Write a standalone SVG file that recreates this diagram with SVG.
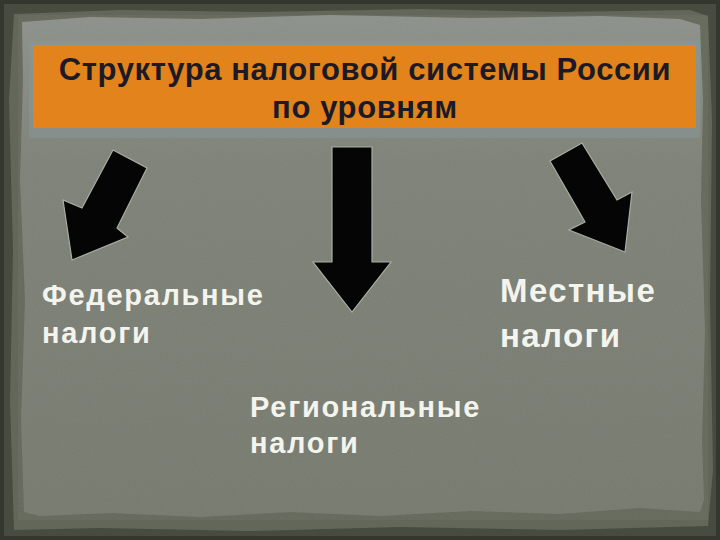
<svg xmlns="http://www.w3.org/2000/svg" width="720" height="540" viewBox="0 0 720 540">
<defs>
<style>
.title{font-family:"Liberation Sans",Arial,sans-serif;font-weight:bold;font-size:31px;letter-spacing:0.6px;fill:#1c1a26;text-anchor:middle}
.lbl{font-family:"Liberation Sans",Arial,sans-serif;font-weight:bold;fill:#f4f4ee}
.arrow{fill:#050505;stroke:#a9ada2;stroke-width:1.2;stroke-linejoin:miter}
</style>
<filter id="noise" x="0" y="0" width="100%" height="100%">
<feTurbulence type="fractalNoise" baseFrequency="0.8" numOctaves="2" seed="3" result="t"/>
<feColorMatrix in="t" type="matrix" values="0 0 0 0 0.5  0 0 0 0 0.52  0 0 0 0 0.47  0 0 0 0.12 0"/>
</filter>
<linearGradient id="paperG" x1="0" y1="0" x2="0" y2="1">
<stop offset="0" stop-color="#8b908a"/>
<stop offset="0.3" stop-color="#7c8076"/>
<stop offset="1" stop-color="#75796d"/>
</linearGradient>
</defs>
<rect x="0" y="0" width="720" height="540" fill="#34372e"/>
<rect x="4" y="4" width="712" height="532" fill="#484c40"/>
<polygon fill="#63675a" points="14,14 120,10 260,12 420,9 560,12 690,10 708,16 712,120 710,300 713,470 708,526 560,530 400,527 250,531 100,528 14,530 10,400 13,250 9,100"/>
<polygon fill="url(#paperG)" points="22,22 90,17 200,19 330,15 470,18 600,16 680,19 700,25 703,100 701,200 705,330 702,440 704,500 700,512 640,508 560,514 470,511 380,516 290,512 200,517 110,513 40,516 24,512 21,420 25,300 20,180 23,80"/>
<rect x="18" y="15" width="690" height="505" filter="url(#noise)"/>
<rect x="29" y="41" width="671" height="97" fill="#8a999c" opacity="0.45"/>
<g id="title">
<rect x="33" y="45" width="663" height="83" fill="#e2841b"/>
<text class="title" x="365" y="80">Структура налоговой системы России</text>
<text class="title" x="365" y="118">по уровням</text>
</g>
<g id="connectors">
<polygon class="arrow" points="113,150 147,168 117,228 128,237 72,260 63,200 82,208"/>
<polygon class="arrow" points="332,147 372,147 372,262 391,262 352,312 313,262 332,262"/>
<polygon class="arrow" points="582,143 617,200 632,192 625,252 569,230 585,222 550,161"/>
</g>
<g id="federal">
<text class="lbl" font-size="29" letter-spacing="1.7" x="42" y="305">Федеральные</text>
<text class="lbl" font-size="29" letter-spacing="1.7" x="42" y="343">налоги</text>
</g>
<g id="regional">
<text class="lbl" font-size="29" letter-spacing="1.7" x="250" y="417">Региональные</text>
<text class="lbl" font-size="29" letter-spacing="1.7" x="250" y="453">налоги</text>
</g>
<g id="local">
<text class="lbl" font-size="33" letter-spacing="1.4" x="500" y="302">Местные</text>
<text class="lbl" font-size="33" letter-spacing="1.4" x="500" y="347">налоги</text>
</g>
</svg>
